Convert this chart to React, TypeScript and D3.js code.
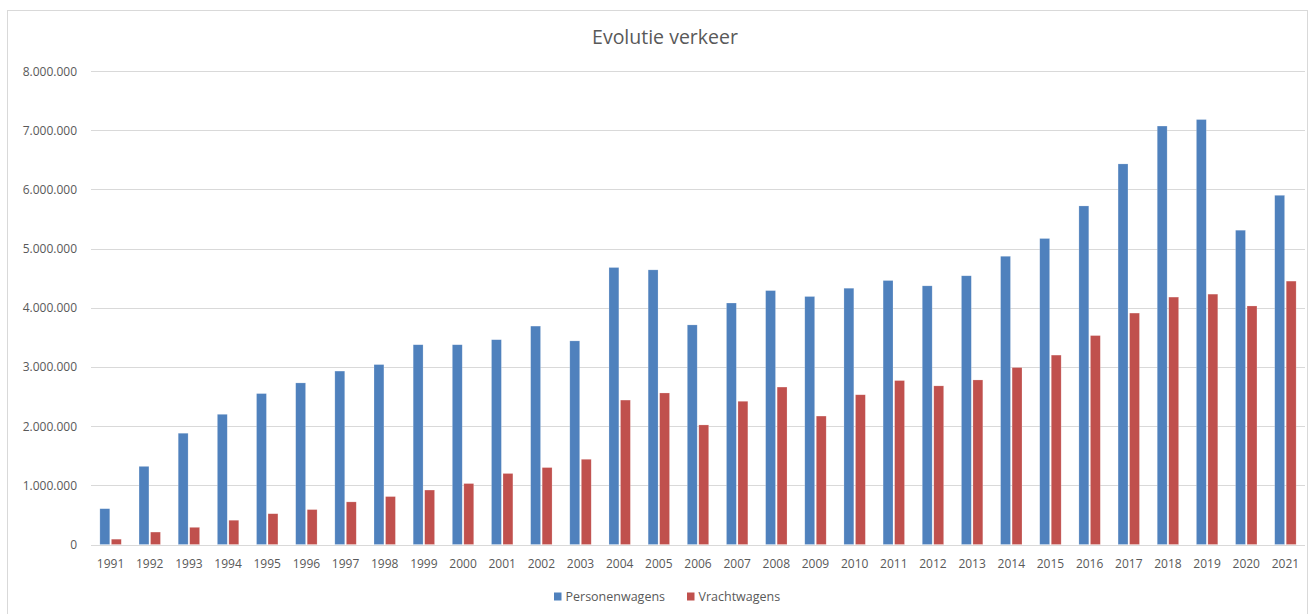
import React from "react";
import * as d3 from "d3";

const years: string[] = [
  "1991","1992","1993","1994","1995","1996","1997","1998","1999","2000",
  "2001","2002","2003","2004","2005","2006","2007","2008","2009","2010",
  "2011","2012","2013","2014","2015","2016","2017","2018","2019","2020","2021",
];

const personenwagens: number[] = [
  605000, 1320000, 1880000, 2200000, 2550000, 2730000, 2930000, 3040000, 3375000, 3375000,
  3460000, 3690000, 3440000, 4680000, 4640000, 3710000, 4080000, 4290000, 4190000, 4330000,
  4460000, 4370000, 4540000, 4870000, 5170000, 5720000, 6430000, 7070000, 7180000, 5310000, 5900000,
];

const vrachtwagens: number[] = [
  90000, 210000, 290000, 410000, 520000, 590000, 720000, 810000, 920000, 1030000,
  1200000, 1300000, 1440000, 2440000, 2560000, 2020000, 2420000, 2660000, 2170000, 2530000,
  2770000, 2680000, 2780000, 2990000, 3200000, 3530000, 3910000, 4180000, 4230000, 4030000, 4450000,
];

const yTicks: number[] = [0, 1000000, 2000000, 3000000, 4000000, 5000000, 6000000, 7000000, 8000000];
const seriesNames: string[] = ["Personenwagens", "Vrachtwagens"];
const seriesColors: string[] = ["#4f81bd", "#c0504d"];

const W = 1310;
const H = 614;
const plotLeft = 91;
const plotRight = 1305;
const plotTop = 71;
const plotBottom = 544.5;
const font = "'Open Sans', 'Noto Sans', sans-serif";
const textColor = "#595959";

const fmt = (v: number) => {
  if (v === 0) return "0";
  return d3.format(",")(v).replace(/,/g, ".");
};

export default function App() {
  const x = d3.scaleBand<string>().domain(years).range([plotLeft, plotRight]).padding(0);
  const y = d3.scaleLinear().domain([0, 8000000]).range([plotBottom, plotTop]);
  const x1 = d3.scaleBand<string>().domain(seriesNames).range([-10.7, 10.7]).paddingInner(0.14);
  const data = [personenwagens, vrachtwagens];

  return (
    <svg
      width={W}
      height={H}
      style={{ position: "absolute", left: 0, top: 0, background: "#fff" }}
      fontFamily={font}
    >
      <rect x={0} y={0} width={W} height={H} fill="#fff" />
      <rect x={7.5} y={10.5} width={1300} height={620} fill="#fff" stroke="#d9d9d9" strokeWidth={1} />

      <text x={665} y={44} textAnchor="middle" fontSize={19.5} fill={textColor}>
        Evolutie verkeer
      </text>

      {yTicks.map((t) => (
        <g key={t}>
          <line
            x1={plotLeft}
            x2={plotRight}
            y1={Math.round(y(t)) + 0.5}
            y2={Math.round(y(t)) + 0.5}
            stroke="#d9d9d9"
            strokeWidth={1}
          />
          <text
            x={77}
            y={y(t) + 4.5}
            textAnchor="end"
            fontSize={12}
            fill={textColor}
          >
            {fmt(t)}
          </text>
        </g>
      ))}

      {data.map((vals, si) =>
        vals.map((v, i) => {
          const cx = (x(years[i]) as number) + x.bandwidth() / 2;
          const bx = cx + (x1(seriesNames[si]) as number);
          return (
            <rect
              key={`${si}-${i}`}
              x={bx}
              y={y(v)}
              width={x1.bandwidth()}
              height={y(0) - y(v)}
              fill={seriesColors[si]}
              stroke="#ffffff"
              strokeOpacity={0.35}
              strokeWidth={0.6}
            />
          );
        })
      )}

      {years.map((yr) => (
        <text
          key={yr}
          x={(x(yr) as number) + x.bandwidth() / 2}
          y={568}
          textAnchor="middle"
          fontSize={12}
          fill={textColor}
        >
          {yr}
        </text>
      ))}

      {seriesNames.map((name, i) => {
        const lx = [554, 687][i];
        return (
          <g key={name}>
            <rect x={lx} y={592.5} width={7.5} height={8} fill={seriesColors[i]} />
            <text x={lx + 11.5} y={600.5} fontSize={12.5} fill={textColor}>
              {name}
            </text>
          </g>
        );
      })}
    </svg>
  );
}
